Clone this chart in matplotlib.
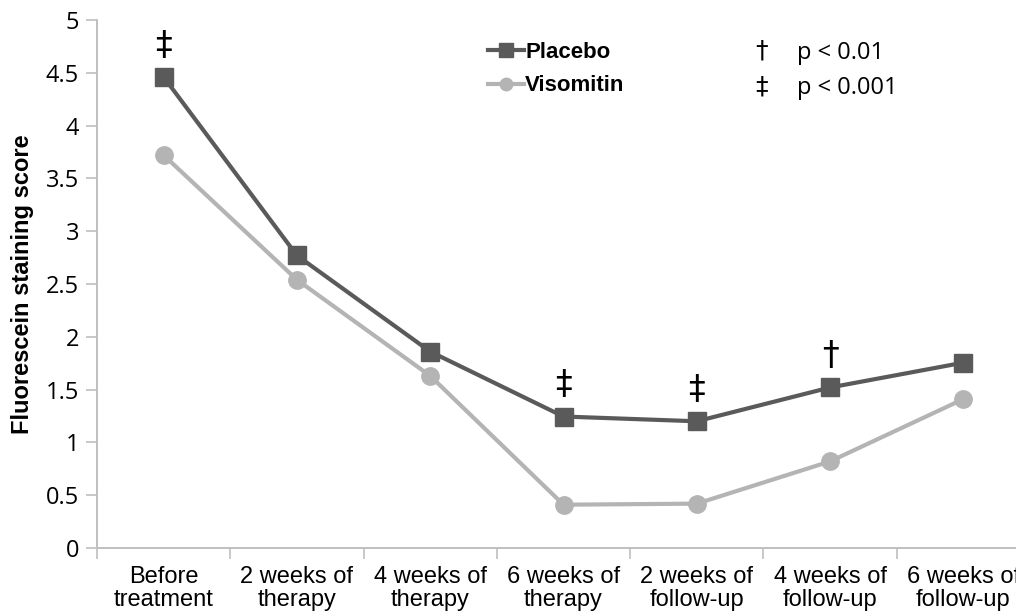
import matplotlib
matplotlib.use("Agg")
import matplotlib.pyplot as plt
from matplotlib.lines import Line2D

# Visit labels and mean fluorescein staining scores per group
categories = ["Before\ntreatment", "2 weeks of\ntherapy", "4 weeks of\ntherapy",
              "6 weeks of\ntherapy", "2 weeks of\nfollow-up", "4 weeks of\nfollow-up",
              "6 weeks of\nfollow-up"]
placebo = [4.46, 2.77, 1.86, 1.245, 1.20, 1.52, 1.755]
visomitin = [3.72, 2.54, 1.63, 0.41, 0.42, 0.82, 1.41]
# Significance marks drawn above the placebo points
sig_marks = ["‡", "", "", "‡", "‡", "†", ""]
yticks = [0, 0.5, 1, 1.5, 2, 2.5, 3, 3.5, 4, 4.5, 5]
ytick_labels = ["0", "0.5", "1", "1.5", "2", "2.5", "3", "3.5", "4", "4.5", "5"]

DARK = "#5a5a5a"
LIGHT = "#b4b4b4"
SPINE = "#bfbfbf"

plt.rcParams["font.family"] = ["Liberation Sans", "DejaVu Sans"]

fig = plt.figure(figsize=(10.16, 6.11), dpi=100)
ax = fig.add_axes([97 / 1016, 63 / 611, 933 / 1016, 528 / 611])

x = list(range(len(categories)))
ax.plot(x, visomitin, color=LIGHT, lw=3, marker="o", ms=12.5, mec=LIGHT, mfc=LIGHT,
        zorder=3)
ax.plot(x, placebo, color=DARK, lw=3, marker="s", ms=12.5, mec=DARK, mfc=DARK,
        zorder=4)

for xi, yi, mark in zip(x, placebo, sig_marks):
    if mark:
        ax.annotate(mark, (xi, yi), xytext=(0, 23), textcoords="offset points",
                    ha="center", va="center", fontsize=24,
                    family=["DejaVu Sans"], color="black")

ax.set_xlim(-0.5, len(categories) - 0.5)
ax.set_ylim(0, 5)

ax.set_xticks(x)
ax.set_xticklabels(categories, fontsize=17, linespacing=1.08)
ax.set_xticks([i - 0.5 for i in range(len(categories) + 1)], minor=True)
ax.tick_params(axis="x", which="major", length=0, pad=13)
ax.tick_params(axis="x", which="minor", length=8, color=SPINE, width=1.2)

ax.set_yticks(yticks)
ax.set_yticklabels(ytick_labels, fontsize=17, family=["Open Sans", "DejaVu Sans"])
ax.tick_params(axis="y", length=8, color=SPINE, width=1.2, pad=5)

for side in ("top", "right"):
    ax.spines[side].set_visible(False)
for side in ("left", "bottom"):
    ax.spines[side].set_color(SPINE)
    ax.spines[side].set_linewidth(1.4)

ax.set_ylabel("Fluorescein staining score", fontsize=17, fontweight="bold",
              labelpad=8)

handles = [
    Line2D([], [], color=DARK, lw=3, marker="s", ms=10, mec=DARK, mfc=DARK),
    Line2D([], [], color=LIGHT, lw=3, marker="o", ms=9, mec=LIGHT, mfc=LIGHT),
]
leg = ax.legend(handles, ["Placebo", "Visomitin"], loc="upper left",
                bbox_to_anchor=(0.398, 0.997), frameon=False, handlelength=1.6,
                handletextpad=0.05, labelspacing=0.58,
                prop={"weight": "bold", "size": 16})

# p-value key
key_font = ["Open Sans", "DejaVu Sans"]
fig.text(762 / 1016, 1 - 50 / 611, "†", fontsize=18, ha="center", va="center",
         family=["DejaVu Sans"])
fig.text(797 / 1016, 1 - 53 / 611, "p < 0.01", fontsize=17, ha="left",
         va="center", family=key_font)
fig.text(762 / 1016, 1 - 87 / 611, "‡", fontsize=18, ha="center", va="center",
         family=["DejaVu Sans"])
fig.text(797 / 1016, 1 - 88 / 611, "p < 0.001", fontsize=17, ha="left",
         va="center", family=key_font)

fig.savefig("out.png", dpi=100)
